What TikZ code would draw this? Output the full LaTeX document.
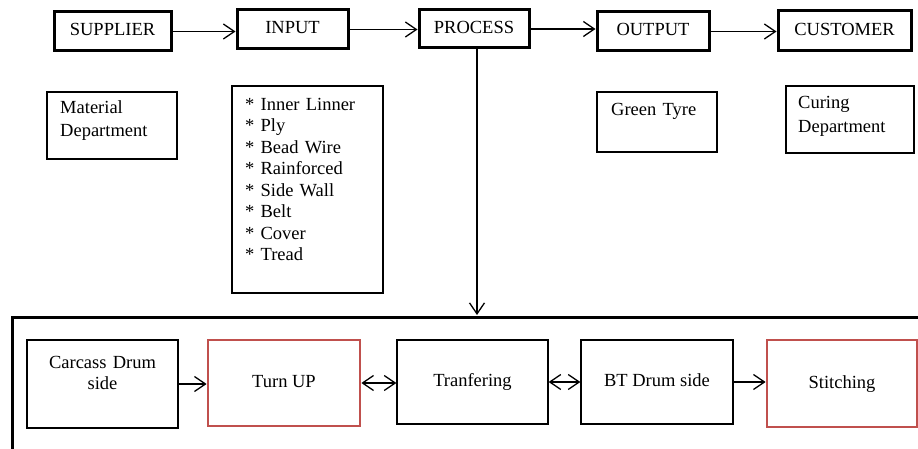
\documentclass[tikz,border=0pt]{standalone}
\usepackage{fontspec}
\setmainfont{Liberation Serif}
\newfontfamily\labelfont{Liberation Serif}
\usetikzlibrary{arrows.meta,calc}
\definecolor{accentred}{RGB}{192,80,77}
\tikzset{
  txt/.style={font=\labelfont\fontsize{18.5}{21.5}\selectfont, inner sep=0pt},
  sized/.style 2 args={minimum width=#1, minimum height=#2},
  headbox/.style={txt, draw, line width=3pt, text height=13pt, text depth=4pt},
  plainbox/.style={draw, line width=1.3pt, inner sep=0pt},
  stagebox/.style={txt, draw, line width=1.3pt, text height=13pt, text depth=4pt},
  keybox/.style={txt, draw=accentred, line width=2.8pt, text height=13pt, text depth=4pt},
  notes/.style={txt, anchor=base west, align=left},
  barb/.tip={Straight Barb[length=11pt,width=15pt,line width=1.3pt]},
  conn/.style={line width=1.3pt, -barb},
  biconn/.style={line width=1.3pt, barb-barb}
}
\begin{document}
\begin{tikzpicture}[x=1pt,y=-1pt]
\useasboundingbox (0,0) rectangle (918,449);

% top chain
\node[headbox, sized={117pt}{39pt}] (sup)  at (112.5,31.5) {SUPPLIER};
\node[headbox, sized={111pt}{39pt}] (inp)  at (292.5,29.5) {INPUT};
\node[headbox, sized={110pt}{38pt}] (proc) at (474,29)     {PROCESS};
\node[headbox, sized={112pt}{39pt}] (out)  at (653,31.5)   {OUTPUT};
\node[headbox, sized={133pt}{40pt}] (cust) at (844.5,31)   {CUSTOMER};

\draw[conn] (sup.east)  -- (sup.east -| inp.west);
\draw[conn] (inp.east)  -- (inp.east -| proc.west);
\draw[conn] (proc.east) -- (proc.east -| out.west);
\draw[conn] (out.east)  -- (out.east -| cust.west);

% description boxes
\node[plainbox, sized={130pt}{67pt}]  (mat)   at (112,125.5) {};
\node[plainbox, sized={151pt}{207pt}] (list)  at (307.5,189.5) {};
\node[plainbox, sized={120pt}{60pt}]  (green) at (657,122) {};
\node[plainbox, sized={128pt}{67pt}]  (cure)  at (850,119.5) {};

\node[notes, text width=120pt, font=\labelfont\fontsize{18.5}{23}\selectfont] (matT) at (60,114) {Material\\Department};
\node[notes, text width=140pt] (listT) at (245,110.5)
  {* Inner Linner\\{}* Ply\\{}* Bead Wire\\{}* Rainforced\\{}* Side Wall\\{}* Belt\\{}* Cover\\{}* Tread};
\node[notes, text width=110pt] (greenT) at (611,116) {Green Tyre};
\node[notes, text width=120pt, font=\labelfont\fontsize{18.5}{24}\selectfont] (cureT) at (798,109) {Curing\\Department};

% process stage frame
\coordinate (frameTop) at (477,317);
\draw[line width=3pt] (12,470) |- (940,317);
\draw[conn] ($(proc.south)+(3,0)$) -- ($(frameTop)+(0,-2)$);

% process stages
\node[plainbox, sized={151pt}{88pt}] (carc) at (102.5,384) {};
\node[txt, anchor=base, align=center, text width=140pt, font=\labelfont\fontsize{18.5}{21}\selectfont] (carcT) at (102.5,368) {Carcass Drum\\side};
\node[keybox,   sized={152pt}{86pt}] (turn)   at (284,383)   {Turn UP};
\node[stagebox, sized={151pt}{84pt}] (tran)   at (472.5,382) {Tranfering};
\node[stagebox, sized={152pt}{84pt}] (bt)     at (657,382)   {BT Drum side};
\node[keybox,   sized={150pt}{87pt}] (stitch) at (842,383.5) {Stitching};

\draw[conn]   (carc.east) -- (carc.east -| turn.west);
\draw[biconn] (turn.east) -- (turn.east -| tran.west);
\draw[biconn] (tran.east) -- (tran.east -| bt.west);
\draw[conn]   (bt.east)   -- (bt.east -| stitch.west);
\end{tikzpicture}
\end{document}
